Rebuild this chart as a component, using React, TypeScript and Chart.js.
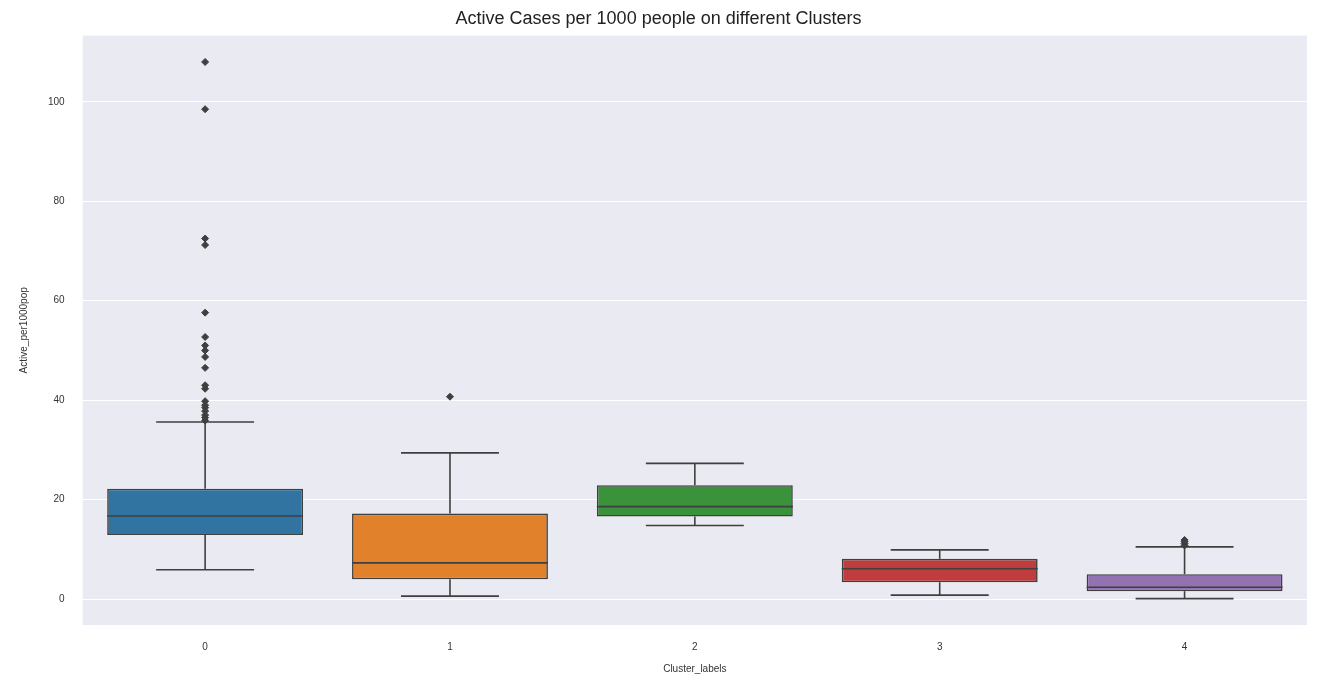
import React, { useEffect, useRef } from 'react';
import { Chart, registerables } from 'chart.js';

Chart.register(...registerables);

const categories = ['0', '1', '2', '3', '4'];
const q1 = [12.9, 4.0, 16.6, 3.4, 1.6];
const q3 = [22.2, 17.2, 22.9, 8.1, 5.0];
const medians = [16.7, 7.3, 18.6, 6.1, 2.4];
const whiskerLow = [5.9, 0.6, 14.8, 0.8, 0.1];
const whiskerHigh = [35.6, 29.4, 27.3, 9.9, 10.5];
const outliers: number[][] = [
  [108, 98.5, 72.5, 71.2, 57.6, 52.7, 51, 50, 48.7, 46.5, 43, 42.3, 39.8, 39, 38.5, 37.8, 37, 36.5, 35.9],
  [40.7],
  [],
  [],
  [10.8, 11.2, 11.6, 11.9],
];
const boxColors = ['#3274a1', '#e1812c', '#3a923a', '#c03d3e', '#9372b2'];
const edge = '#3f3f3f';

const boxPlugin = {
  id: 'boxExtras',
  beforeDraw(chart: any) {
    const { ctx, chartArea: a } = chart;
    ctx.save();
    ctx.fillStyle = '#eaeaf2';
    ctx.fillRect(a.left, a.top, a.right - a.left, a.bottom - a.top);
    ctx.restore();
  },
  afterDatasetsDraw(chart: any) {
    const { ctx } = chart;
    const y = chart.scales.y;
    const meta = chart.getDatasetMeta(0);
    ctx.save();
    ctx.strokeStyle = edge;
    ctx.lineWidth = 1.6;
    meta.data.forEach((bar: any, i: number) => {
      const cx = bar.x;
      const half = bar.width / 2;
      const cap = half / 2;
      const line = (x1: number, y1: number, x2: number, y2: number) => {
        ctx.beginPath();
        ctx.moveTo(x1, y1);
        ctx.lineTo(x2, y2);
        ctx.stroke();
      };
      line(cx - half, y.getPixelForValue(medians[i]), cx + half, y.getPixelForValue(medians[i]));
      line(cx, y.getPixelForValue(q3[i]), cx, y.getPixelForValue(whiskerHigh[i]));
      line(cx, y.getPixelForValue(q1[i]), cx, y.getPixelForValue(whiskerLow[i]));
      line(cx - cap, y.getPixelForValue(whiskerHigh[i]), cx + cap, y.getPixelForValue(whiskerHigh[i]));
      line(cx - cap, y.getPixelForValue(whiskerLow[i]), cx + cap, y.getPixelForValue(whiskerLow[i]));
    });
    ctx.restore();
  },
};

const App: React.FC = () => {
  const ref = useRef<HTMLCanvasElement>(null);

  useEffect(() => {
    document.body.style.margin = '0';
    if (!ref.current) return;
    const chart = new Chart(ref.current, {
      type: 'bar',
      data: {
        labels: categories,
        datasets: [
          {
            type: 'bar',
            data: categories.map((_, i) => [q1[i], q3[i]]),
            backgroundColor: boxColors,
            borderColor: edge,
            borderWidth: 1.6,
            borderSkipped: false,
            barPercentage: 0.8,
            categoryPercentage: 1,
          } as any,
          {
            type: 'scatter',
            data: outliers.flatMap((arr, i) => arr.map((v) => ({ x: categories[i], y: v }))),
            pointStyle: 'rectRot',
            pointRadius: 3.5,
            backgroundColor: edge,
            borderColor: edge,
          } as any,
        ],
      },
      options: {
        animation: false,
        responsive: true,
        maintainAspectRatio: false,
        layout: { padding: { left: 10, right: 25, top: 0, bottom: 5 } },
        plugins: {
          legend: { display: false },
          tooltip: { enabled: false },
          title: {
            display: true,
            text: 'Active Cases per 1000 people on different Clusters',
            color: '#222',
            font: { size: 18, family: 'Liberation Sans', weight: 'normal' },
            padding: { top: 8, bottom: 6 },
          },
        },
        scales: {
          x: {
            type: 'category',
            grid: { display: false },
            border: { display: false },
            ticks: { color: '#333', font: { size: 10, family: 'Liberation Sans' }, padding: 8 },
            title: { display: true, text: 'Cluster_labels', color: '#333', font: { size: 10, family: 'Liberation Sans' }, padding: 2 },
          },
          y: {
            min: -5.2,
            max: 113.3,
            grid: { color: '#ffffff', lineWidth: 1 },
            border: { display: false },
            afterBuildTicks: (axis: any) => {
              axis.ticks = [0, 20, 40, 60, 80, 100].map((v) => ({ value: v }));
            },
            ticks: { color: '#333', font: { size: 10, family: 'Liberation Sans' }, padding: 10 },
            title: { display: true, text: 'Active_per1000pop', color: '#333', font: { size: 10, family: 'Liberation Sans' }, padding: 8 },
          },
        },
      },
      plugins: [boxPlugin],
    });
    return () => chart.destroy();
  }, []);

  return (
    <div style={{ width: 1332, height: 682, background: '#fff' }}>
      <canvas ref={ref} />
    </div>
  );
};

export default App;
